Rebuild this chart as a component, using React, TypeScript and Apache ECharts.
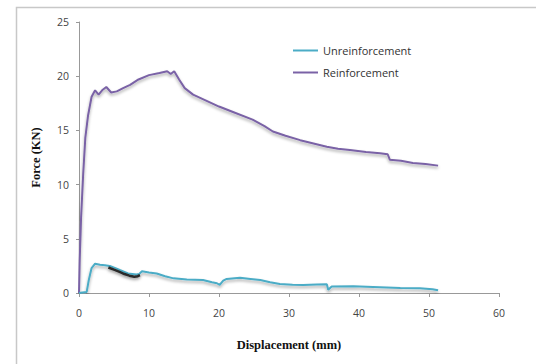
import React, { useEffect, useRef } from "react";
import * as echarts from "echarts";

const xTicks = [0, 10, 20, 30, 40, 50, 60];
const yTicks = [0, 5, 10, 15, 20, 25];
const seriesNames = ["Unreinforcement", "Reinforcement"];

const reinforcement: [number, number][] = [
  [0, 0], [0.1, 3], [0.3, 7], [0.6, 11], [0.9, 14.3], [1.3, 16.4], [1.8, 18.1],
  [2.3, 18.7], [2.8, 18.3], [3.3, 18.7], [3.9, 19.0], [4.6, 18.5], [5.4, 18.6],
  [6.3, 18.9], [7.3, 19.2], [8.5, 19.7], [10.0, 20.1], [11.5, 20.3], [12.6, 20.45],
  [13.1, 20.2], [13.6, 20.45], [14.3, 19.7], [15.1, 18.9], [16.3, 18.3], [18.0, 17.8],
  [20.0, 17.2], [22.0, 16.7], [24.8, 16.0], [26.5, 15.4], [27.7, 14.9], [29.5, 14.5],
  [31.6, 14.1], [33.5, 13.8], [35.4, 13.5], [37, 13.3], [38.7, 13.2], [41, 13.0],
  [43, 12.9], [44.1, 12.8], [44.4, 12.3], [46, 12.2], [47.7, 12.0], [49.5, 11.9],
  [51.3, 11.75],
];

const unreinforcement: [number, number][] = [
  [0, 0], [0.5, 0.05], [1.1, 0.1], [1.4, 1.2], [1.8, 2.3], [2.3, 2.7], [3.0, 2.6],
  [3.7, 2.55], [4.4, 2.5], [5.2, 2.3], [5.9, 2.1], [7.0, 1.8], [8.2, 1.7], [8.6, 1.75],
  [9.0, 2.0], [10.0, 1.9], [11.1, 1.8], [12.3, 1.55], [13.5, 1.35], [15.4, 1.25],
  [17.7, 1.2], [19.0, 1.0], [19.7, 0.9], [20.1, 0.75], [20.6, 1.14], [21.1, 1.3],
  [23, 1.4], [24.5, 1.3], [25.9, 1.2], [27.3, 1.0], [28.7, 0.83], [30.5, 0.75],
  [32, 0.74], [34, 0.78], [35.4, 0.8], [35.6, 0.3], [36.1, 0.6], [39.2, 0.62],
  [42, 0.55], [45.9, 0.45], [48.7, 0.43], [50.5, 0.35], [51.3, 0.25],
];

const darkSegment: [number, number][] = [
  [4.2, 2.35], [5.0, 2.15], [5.8, 1.95], [6.5, 1.75], [7.2, 1.6], [7.9, 1.5],
  [8.4, 1.55], [8.7, 1.65],
];

export default function App() {
  const ref = useRef<HTMLDivElement>(null);
  useEffect(() => {
    if (!ref.current) return;
    const chart = echarts.init(ref.current, undefined, { renderer: "svg" });
    const tickFont = { fontFamily: "Open Sans", fontSize: 10.5, color: "#444" };
    const shadow = { shadowColor: "rgba(0,0,0,0.35)", shadowBlur: 3, shadowOffsetY: 2 };
    chart.setOption({
      animation: false,
      backgroundColor: "#fff",
      graphic: [
        {
          type: "rect",
          shape: { x: 16.5, y: 7.5, width: 530, height: 370 },
          style: { fill: "none", stroke: "#c8c8c8", lineWidth: 1.5 },
          silent: true,
        },
      ],
      grid: { left: 79, right: 37, top: 22, bottom: 71 },
      legend: {
        left: 288,
        top: 40,
        orient: "vertical",
        itemWidth: 25,
        itemHeight: 2,
        itemGap: 11,
        icon: "rect",
        data: seriesNames,
        textStyle: { fontFamily: "Open Sans", fontSize: 11, color: "#333" },
      },
      xAxis: {
        type: "value",
        min: 0,
        max: 60,
        interval: 10,
        name: "Displacement (mm)",
        nameLocation: "middle",
        nameGap: 45,
        nameTextStyle: { fontFamily: "Liberation Serif", fontWeight: "bold", fontSize: 12.5, color: "#111" },
        axisLine: { show: true, lineStyle: { color: "#999", width: 1 } },
        axisTick: { show: true, length: 4, lineStyle: { color: "#999" } },
        axisLabel: { ...tickFont, margin: 14, formatter: (v: number) => (xTicks.includes(v) ? String(v) : "") },
        splitLine: { show: false },
      },
      yAxis: {
        type: "value",
        min: 0,
        max: 25,
        interval: 5,
        name: "Force (KN)",
        nameLocation: "middle",
        nameGap: 37,
        nameTextStyle: { fontFamily: "Liberation Serif", fontWeight: "bold", fontSize: 12.5, color: "#111" },
        axisLine: { show: true, lineStyle: { color: "#999", width: 1 } },
        axisTick: { show: true, length: 3, lineStyle: { color: "#999" } },
        axisLabel: { ...tickFont, margin: 10, formatter: (v: number) => (yTicks.includes(v) ? String(v) : "") },
        splitLine: { show: false },
      },
      series: [
        {
          name: seriesNames[0],
          type: "line",
          data: unreinforcement,
          showSymbol: false,
          color: "#4bacc6",
          lineStyle: { width: 2, color: "#4bacc6", ...shadow },
          z: 3,
        },
        {
          name: seriesNames[1],
          type: "line",
          data: reinforcement,
          showSymbol: false,
          color: "#7a62a6",
          lineStyle: { width: 2, color: "#7a62a6", ...shadow },
          z: 2,
        },
        {
          name: "dark",
          type: "line",
          data: darkSegment,
          showSymbol: false,
          color: "#111",
          lineStyle: { width: 2.5, color: "#2a2a2a", ...shadow },
          z: 4,
        },
      ],
    });
    return () => chart.dispose();
  }, []);
  return <div ref={ref} style={{ position: "fixed", left: 0, top: 0, width: 536, height: 364 }} />;
}
